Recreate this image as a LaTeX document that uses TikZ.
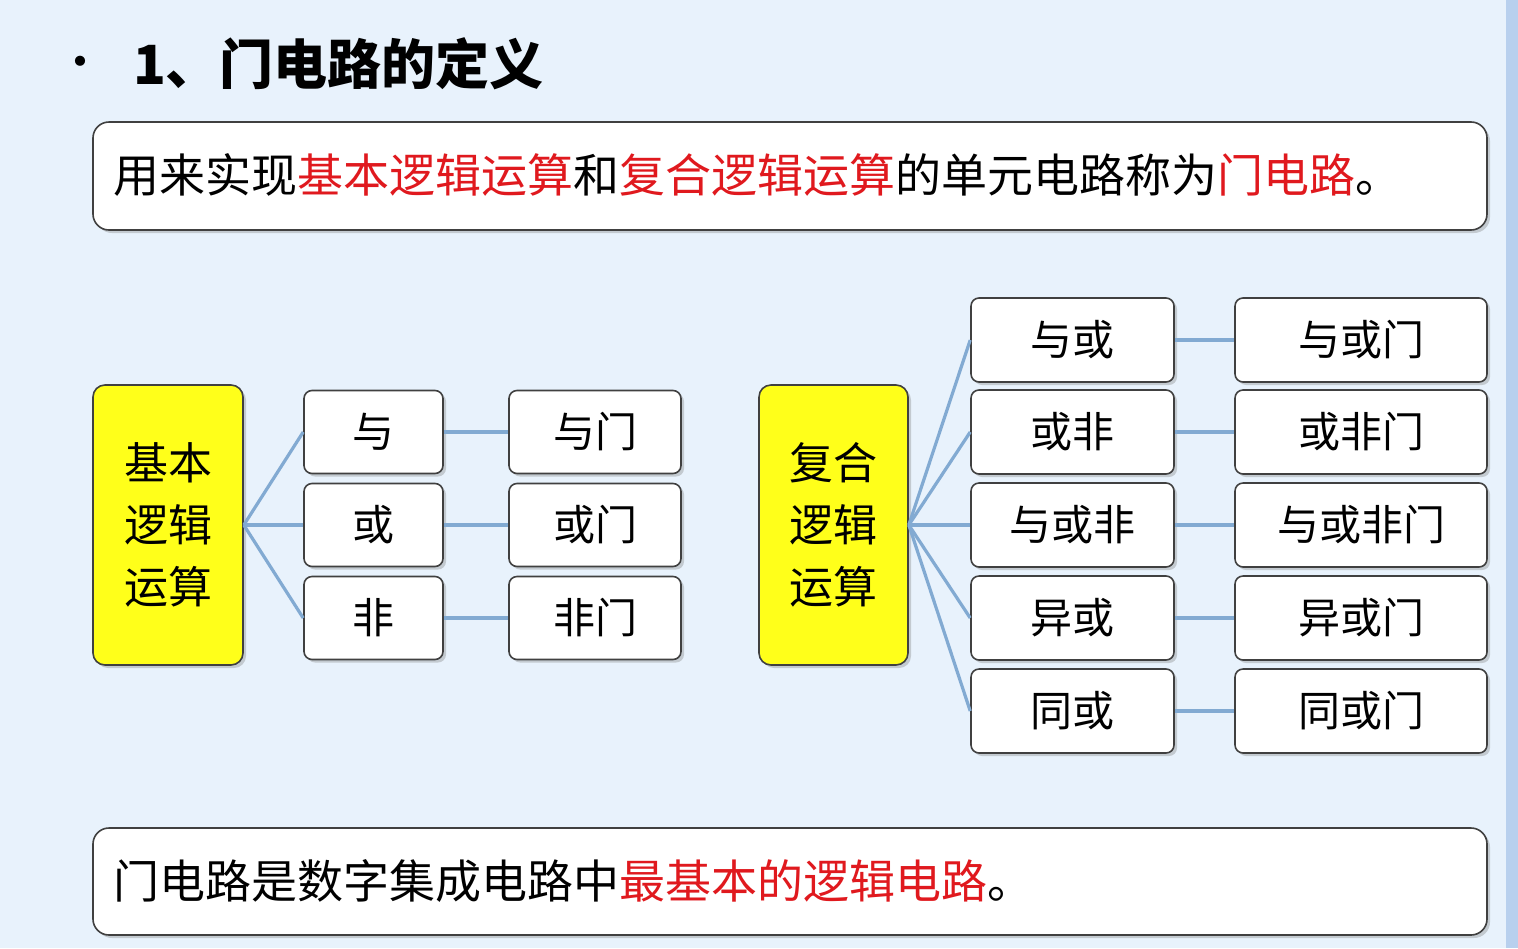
\documentclass[tikz,border=0pt]{standalone}
\usepackage{fontspec}
\setmainfont{Noto Sans CJK SC}
\usetikzlibrary{shadows}
\definecolor{bg}{HTML}{E8F2FC}
\definecolor{lk}{HTML}{82AAD2}
\definecolor{rd}{HTML}{E0191E}
\definecolor{yl}{HTML}{FFFF1A}
\definecolor{strip}{HTML}{B8D0EE}
\begin{document}
\begin{tikzpicture}[x=0.5pt,y=-0.5pt,
  bx/.style={draw=black!75,line width=0.8pt,rounded corners=4pt,fill=white,drop shadow={shadow xshift=1.5pt,shadow yshift=-1.5pt,opacity=0.35}},
  yb/.style={draw=black!75,line width=0.8pt,rounded corners=6pt,fill=yl,drop shadow={shadow xshift=1.5pt,shadow yshift=-1.5pt,opacity=0.35}},
  tx/.style={font=\fontsize{21}{24}\selectfont},
  lk/.style={draw=lk,line width=1.6pt}]
\fill[bg] (0,0) rectangle (1518,948);
\fill[strip] (1506,0) rectangle (1518,948);
\useasboundingbox (0,0) rectangle (1518,948);
\node[font=\fontsize{24}{24}\selectfont] (bul) at (80,68) {•};
\node[anchor=west,font=\fontsize{27}{30}\selectfont\bfseries] (ttl) at (126,64) {1、门电路的定义};
\draw[bx,rounded corners=8pt] (93,122) rectangle (1487,230);
\node[anchor=west,font=\fontsize{23}{26}\selectfont] (d1) at (106,175) {用来实现\textcolor{rd}{基本逻辑运算}和\textcolor{rd}{复合逻辑运算}的单元电路称为\textcolor{rd}{门电路}。};
\draw[bx,rounded corners=8pt] (93,828) rectangle (1487,935);
\node[anchor=west,font=\fontsize{23}{26}\selectfont] (d2) at (106,881) {门电路是数字集成电路中\textcolor{rd}{最基本的逻辑电路}。};
% left
\node[yb,minimum width=75pt,minimum height=140pt,font=\fontsize{22}{24}\selectfont,align=center] (y1) at (168,525) {基本\\[7pt]逻辑\\[7pt]运算};
\foreach \n/\a/\b/\yy in {a/与/与门/432, b/或/或门/525, c/非/非门/618}{
  \node[bx,minimum width=69.5pt,minimum height=41.5pt,tx] (l\n) at (373.5,\yy) {\a};
  \node[bx,minimum width=86pt,minimum height=41.5pt,tx] (g\n) at (595,\yy) {\b};
  \draw[lk] (y1.east) -- (l\n.west);
  \draw[lk] (l\n.east) -- (g\n.west);
}
% right
\node[yb,minimum width=74.5pt,minimum height=140pt,font=\fontsize{22}{24}\selectfont,align=center] (y2) at (833.5,525) {复合\\[7pt]逻辑\\[7pt]运算};
\foreach \n/\a/\b/\yy in {a/与或/与或门/340, b/或非/或非门/432, c/与或非/与或非门/525, d/异或/异或门/618, e/同或/同或门/711}{
  \node[bx,minimum width=101.5pt,minimum height=42pt,tx] (r\n) at (1072.5,\yy) {\a};
  \node[bx,minimum width=126pt,minimum height=42pt,tx] (h\n) at (1361,\yy) {\b};
  \draw[lk] (y2.east) -- (r\n.west);
  \draw[lk] (r\n.east) -- (h\n.west);
}
\end{tikzpicture}
\end{document}
